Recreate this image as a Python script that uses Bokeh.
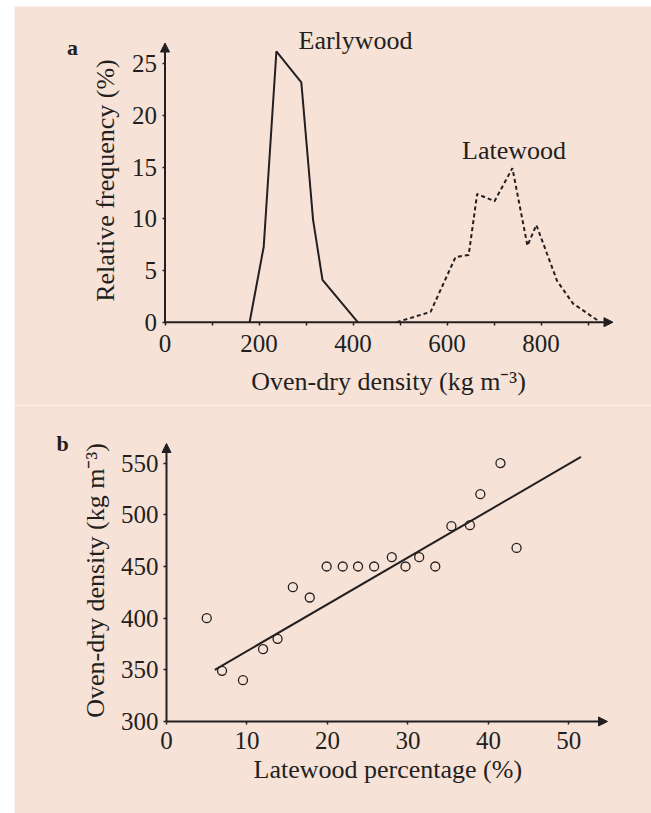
import math
from bokeh.plotting import figure
from bokeh.models import Range1d, FixedTicker, Label, Arrow, NormalHead, Spacer
from bokeh.layouts import row, column
from bokeh.embed import file_html
from bokeh.resources import INLINE

# ---------------- data ----------------
# panel a: frequency distributions
early_x = [180, 210, 237, 290, 315, 335, 410]
early_y = [0, 7.3, 26.2, 23.2, 9.9, 4.1, 0]
late_x = [493, 565, 618, 646, 664, 701, 739, 771, 790, 834, 868, 926]
late_y = [0, 1.0, 6.3, 6.5, 12.4, 11.7, 14.9, 7.4, 9.4, 4.0, 1.8, 0]
a_xticks = [0, 200, 400, 600, 800]
a_xminor = [100, 300, 500, 700, 900]
a_yticks = [0, 5, 10, 15, 20, 25]
a_xmax, a_ymax = 953, 27.0          # ends of the arrowed axes

# panel b: latewood % vs density
lw_pct = [5.0, 6.9, 9.5, 12.0, 13.8, 15.7, 17.8, 19.9, 21.9, 23.8, 25.8,
          28.0, 29.7, 31.4, 33.4, 35.4, 37.7, 39.0, 41.5, 43.5]
density = [400, 349, 340, 370, 380, 430, 420, 450, 450, 450, 450,
           459, 450, 459, 450, 489, 490, 520, 550, 468]
fit_x = [6, 51.5]
fit_y = [350, 556]
b_xticks = [0, 10, 20, 30, 40, 50]
b_yticks = [300, 350, 400, 450, 500, 550]
b_xmax, b_ymin, b_ymax = 54.8, 300, 569

# ---------------- style ----------------
BG = "#f7e2d8"
INK = "#231f20"
FONT = "Liberation Serif"
W = 637


def make_fig(h, ox, oy, sx, sy, x0, y0):
    """Figure whose frame fills the canvas; (x0, y0) sits at canvas pixel (ox, oy)."""
    xr = Range1d(x0 - ox / sx, x0 + (W - ox) / sx)
    yr = Range1d(y0 - (h - oy) / sy, y0 + oy / sy)
    p = figure(width=W, height=h, output_backend="svg", toolbar_location=None,
               x_range=xr, y_range=yr, min_border=0)
    p.background_fill_color = BG
    p.border_fill_color = BG
    p.outline_line_color = None
    p.grid.visible = False
    return p


def style_axes(p, xt, yt, xminor, xloc, yloc, xstand, ystand):
    for ax in (p.xaxis[0], p.yaxis[0]):
        ax.axis_line_color = None
        ax.major_tick_line_color = INK
        ax.major_tick_line_width = 1.5
        ax.major_tick_in = 0
        ax.major_tick_out = 3
        ax.minor_tick_in = 0
        ax.minor_tick_out = 3
        ax.minor_tick_line_color = INK
        ax.minor_tick_line_width = 1.5
        ax.major_label_text_font = FONT
        ax.major_label_text_font_size = "25px"
        ax.major_label_text_color = INK
    p.xaxis[0].ticker = FixedTicker(ticks=xt, minor_ticks=xminor)
    p.yaxis[0].ticker = FixedTicker(ticks=yt)
    p.xaxis[0].fixed_location = xloc
    p.yaxis[0].fixed_location = yloc
    p.xaxis[0].major_label_standoff = xstand
    p.yaxis[0].major_label_standoff = ystand


def arrow(p, x0, y0, x1, y1):
    p.add_layout(Arrow(x_start=x0, y_start=y0, x_end=x1, y_end=y1,
                       line_color=INK, line_width=2,
                       end=NormalHead(size=9, fill_color=INK, line_color=INK, line_width=1)))


def label(p, x, y, text, size="26px", bold=False, align="left", angle=0.0):
    p.add_layout(Label(x=x, y=y, text=text, angle=angle,
                       text_font=FONT, text_font_size=size,
                       text_font_style="bold" if bold else "normal",
                       text_color=INK, text_align=align, text_baseline="middle"))


# ---------------- panel a ----------------
pa = make_fig(399, 150.5, 315.7, 448 / 953, 10.34, 0, 0)
style_axes(pa, a_xticks, a_yticks, a_xminor, 0, 0, 10, 5)

pa.line(early_x, early_y, line_color=INK, line_width=2)
pa.line(late_x, late_y, line_color=INK, line_width=2, line_dash="4 3")
arrow(pa, 0, 0, a_xmax, 0)
arrow(pa, 0, 0, 0, a_ymax)

label(pa, 284, 27.24, "Earlywood")
label(pa, 632, 16.6, "Latewood")
label(pa, -196.8, 26.57, "a", size="22px", bold=True, align="center")
label(pa, 475.5, -5.74, "Oven-dry density (kg m\u207b\u00b3)", align="center")
label(pa, -126.6, 13.7, "Relative frequency (%)", align="center", angle=math.pi / 2)

# ---------------- panel b ----------------
pb = make_fig(408, 152, 316, 441 / 54.8, 278 / 269, 0, 300)
style_axes(pb, b_xticks, b_yticks, [], 300, 0, 7, 5)

pb.line(fit_x, fit_y, line_color=INK, line_width=2)
pb.scatter(lw_pct, density, marker="circle", size=9, fill_color=None,
           line_color=INK, line_width=1.3)
arrow(pb, 0, b_ymin, b_xmax, b_ymin)
arrow(pb, 0, b_ymin, 0, b_ymax)

label(pb, -12.92, 569.1, "b", size="22px", bold=True, align="center")
label(pb, 27.5, 253.5, "Latewood percentage (%)", align="center")
label(pb, -8.82, 436.5, "Oven-dry density (kg m\u207b\u00b3)", align="center",
      angle=math.pi / 2)

layout = column(Spacer(width=10, height=6),
                row(Spacer(width=14, height=10), column(pa, pb)))
open("out.html", "w").write(file_html(layout, INLINE))
